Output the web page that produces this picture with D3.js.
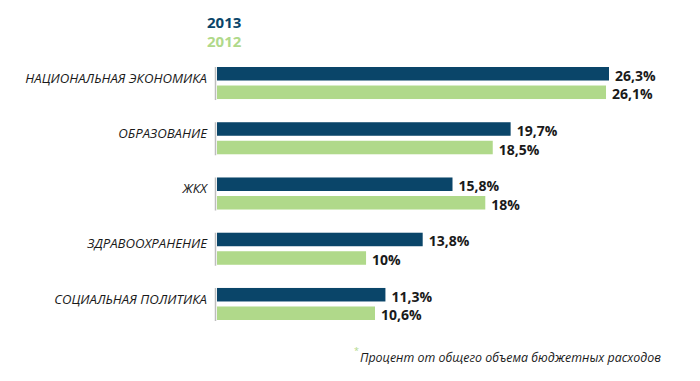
<!DOCTYPE html>
<html>
<head>
<meta charset="utf-8">
<script src="https://cdn.jsdelivr.net/npm/d3@7"></script>
<style>
  html, body { margin: 0; padding: 0; background: #fff; }
  #chart { width: 700px; height: 381px; }
  text { font-family: "Open Sans", "Noto Sans", sans-serif; }
</style>
</head>
<body>
<div id="chart"></div>
<script>
// категории и значения (% от общего объема бюджетных расходов)
const categories = ['НАЦИОНАЛЬНАЯ ЭКОНОМИКА', 'ОБРАЗОВАНИЕ', 'ЖКХ', 'ЗДРАВООХРАНЕНИЕ', 'СОЦИАЛЬНАЯ ПОЛИТИКА'];
const series = ['2013', '2012'];
const values2013 = [26.3, 19.7, 15.8, 13.8, 11.3];
const values2012 = [26.1, 18.5, 18, 10, 10.6];
const valueLabels2013 = ['26,3%', '19,7%', '15,8%', '13,8%', '11,3%'];
const valueLabels2012 = ['26,1%', '18,5%', '18%', '10%', '10,6%'];
const footnote = 'Процент от общего объема бюджетных расходов';

const colors = { '2013': '#0a4569', '2012': '#b0d98a' };

const width = 700, height = 381;
const margin = { left: 217 };

const svg = d3.select('#chart').append('svg')
  .attr('width', width)
  .attr('height', height);

// шкалы
const x = d3.scaleLinear().domain([0, 26.3]).range([margin.left, 609]);
const y0 = d3.scaleBand().domain(categories).range([67, 320]).paddingInner(0.42);
const y1 = d3.scaleBand().domain(series).range([0, y0.bandwidth()]).paddingInner(0.27);

const rows = categories.map((c, i) => ({
  cat: c,
  bars: [
    { s: '2013', v: values2013[i], label: valueLabels2013[i] },
    { s: '2012', v: values2012[i], label: valueLabels2012[i] }
  ]
}));

// легенда
svg.append('text')
  .attr('x', 207).attr('y', 28)
  .attr('font-size', 15).attr('font-weight', 700)
  .attr('fill', colors['2013'])
  .text('2013');
svg.append('text')
  .attr('x', 207).attr('y', 47)
  .attr('font-size', 15).attr('font-weight', 700)
  .attr('fill', colors['2012'])
  .text('2012');

const g = svg.selectAll('g.row')
  .data(rows)
  .join('g')
  .attr('class', 'row')
  .attr('transform', d => `translate(0,${y0(d.cat)})`);

// ось (серая линия у каждой группы)
g.append('line')
  .attr('x1', margin.left - 1.5).attr('x2', margin.left - 1.5)
  .attr('y1', 0).attr('y2', y0.bandwidth() + 1)
  .attr('stroke', '#bdbdbd').attr('stroke-width', 1.5);

// подписи категорий
g.append('text')
  .attr('x', 207)
  .attr('y', y1('2013') + y1.bandwidth() / 2 + 9)
  .attr('text-anchor', 'end')
  .attr('font-size', 13.2)
  .attr('font-style', 'italic')
  .attr('fill', '#1a1a1a')
  .text(d => d.cat);

// столбцы
g.selectAll('rect')
  .data(d => d.bars)
  .join('rect')
  .attr('x', x(0))
  .attr('y', d => y1(d.s))
  .attr('width', d => x(d.v) - x(0))
  .attr('height', y1.bandwidth())
  .attr('fill', d => colors[d.s]);

// значения
g.selectAll('text.val')
  .data(d => d.bars)
  .join('text')
  .attr('class', 'val')
  .attr('x', d => x(d.v) + 6)
  .attr('y', d => y1(d.s) + y1.bandwidth() / 2 + 7)
  .attr('font-size', 14)
  .attr('font-weight', 700)
  .attr('fill', '#1a1a1a')
  .text(d => d.label);

// сноска
svg.append('text')
  .attr('x', 354).attr('y', 354)
  .attr('font-size', 9)
  .attr('fill', colors['2012'])
  .text('*');
svg.append('text')
  .attr('x', 360).attr('y', 362)
  .attr('font-size', 12.4)
  .attr('font-style', 'italic')
  .attr('fill', '#1a1a1a')
  .text(footnote);
</script>
</body>
</html>
